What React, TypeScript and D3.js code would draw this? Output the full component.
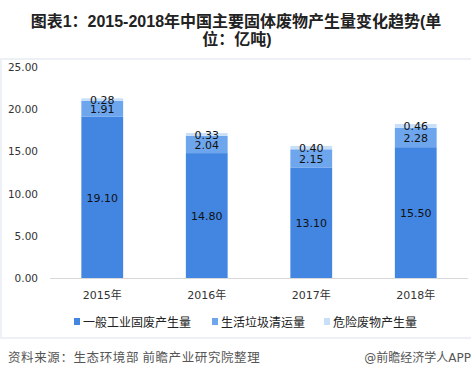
import React from "react";
import * as d3 from "d3";

const categories = ["2015年", "2016年", "2017年", "2018年"];
const seriesNames = ["一般工业固废产生量", "生活垃圾清运量", "危险废物产生量"];
const industrial = [19.1, 14.8, 13.1, 15.5];
const household = [1.91, 2.04, 2.15, 2.28];
const hazardous = [0.28, 0.33, 0.4, 0.46];
const yTicks = [0, 5, 10, 15, 20, 25];
const colors = ["#4286E2", "#6EA6EE", "#C8DFFA"];

const W = 471;
const H = 379;
const CJK = "'Noto Sans CJK SC', sans-serif";
const NUM = "'DejaVu Sans', 'Noto Sans CJK SC', sans-serif";
const TITLE = "'Liberation Sans', 'Noto Sans CJK SC', sans-serif";

export default function App() {
  const x = d3.scaleBand<string>().domain(categories).range([50, 468]).paddingInner(0.6).paddingOuter(0.3);
  const y = d3.scaleLinear().domain([0, 25]).range([278, 67]);
  const series = [industrial, household, hazardous];
  const stackData = categories.map((c, i) => ({ c, s0: industrial[i], s1: household[i], s2: hazardous[i] }));
  const stacked = d3.stack<any>().keys(["s0", "s1", "s2"])(stackData);

  const legendX = [74, 212, 324];

  return (
    <svg width={W} height={H} style={{ position: "absolute", left: 0, top: 0, background: "#fff" }}>
      <text x={236} y={27} textAnchor="middle" fontFamily={TITLE} fontWeight="bold" fontSize={16} fill="#222">
        图表1：2015-2018年中国主要固体废物产生量变化趋势(单
      </text>
      <text x={237} y={45} textAnchor="middle" fontFamily={TITLE} fontWeight="bold" fontSize={16} fill="#222">
        位：亿吨)
      </text>
      <rect x={1} y={59} width={472} height={279} fill="none" stroke="#EDF0F5" strokeWidth={2} />
      {yTicks.map((t) => (
        <text key={t} x={38} y={y(t) + 4} textAnchor="end" fontFamily={NUM} fontSize={10.5} fill="#333">
          {t.toFixed(2)}
        </text>
      ))}
      {stacked.map((layer, li) => (
        <g key={li}>
          {layer.map((d, i) => (
            <rect
              key={i}
              x={x(categories[i])}
              y={y(d[1])}
              width={x.bandwidth()}
              height={y(d[0]) - y(d[1])}
              fill={colors[li]}
            />
          ))}
        </g>
      ))}
      <line x1={50} x2={468} y1={278.5} y2={278.5} stroke="#D9D9D9" strokeWidth={1} />
      {stacked.map((layer, li) => (
        <g key={"l" + li}>
          {layer.map((d, i) => (
            <text
              key={i}
              x={(x(categories[i]) as number) + x.bandwidth() / 2}
              y={y((d[0] + d[1]) / 2) + 4.5}
              textAnchor="middle"
              fontFamily={NUM}
              fontSize={11}
              fill="#111"
            >
              {series[li][i].toFixed(2)}
            </text>
          ))}
        </g>
      ))}
      {categories.map((c) => (
        <text key={c} x={(x(c) as number) + x.bandwidth() / 2} y={299} textAnchor="middle" fontFamily={NUM} fontSize={11} fill="#333">
          {c}
        </text>
      ))}
      {seriesNames.map((n, i) => (
        <g key={n}>
          <rect x={legendX[i]} y={318} width={6} height={7} fill={colors[i]} />
          <text x={legendX[i] + 9} y={326.5} fontFamily={CJK} fontSize={12} fill="#222">
            {n}
          </text>
        </g>
      ))}
      <text x={8} y={362} fontFamily={CJK} fontSize={12.5} fill="#555" letterSpacing={0.6}>
        资料来源：生态环境部 前瞻产业研究院整理
      </text>
      <text x={471} y={362} textAnchor="end" fontFamily={NUM} fontSize={12} fill="#555">
        @前瞻经济学人APP
      </text>
    </svg>
  );
}
